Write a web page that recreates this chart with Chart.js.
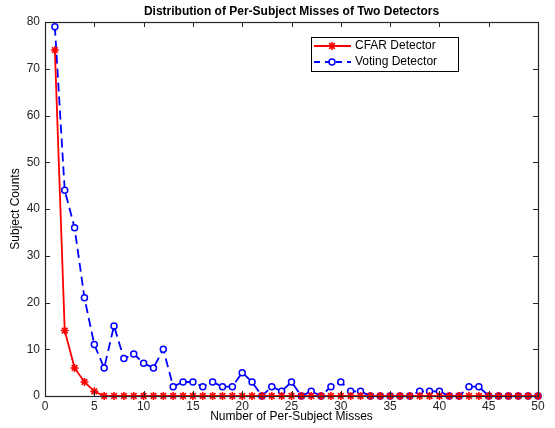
<!DOCTYPE html>
<html>
<head>
<meta charset="utf-8">
<script src="https://cdn.jsdelivr.net/npm/chart.js@4.4.1/dist/chart.umd.min.js"></script>
<style>
  html, body { margin: 0; padding: 0; background: #fff; }
  #wrap { width: 555px; height: 428px; }
</style>
</head>
<body>
<div id="wrap"><canvas id="chart_misses"></canvas></div>
<script>
// misses per subject (x) and how many subjects had that many
var misses = [];
for (var i = 1; i <= 50; i++) misses.push(i);

var cfarCounts = [74, 14, 6, 3, 1, 0, 0, 0, 0, 0,
                  0, 0, 0, 0, 0, 0, 0, 0, 0, 0,
                  0, 0, 0, 0, 0, 0, 0, 0, 0, 0,
                  0, 0, 0, 0, 0, 0, 0, 0, 0, 0,
                  0, 0, 0, 0, 0, 0, 0, 0, 0, 0];

var votingCounts = [79, 44, 36, 21, 11, 6, 15, 8, 9, 7,
                    6, 10, 2, 3, 3, 2, 3, 2, 2, 5,
                    3, 0, 2, 1, 3, 0, 1, 0, 2, 3,
                    1, 1, 0, 0, 0, 0, 0, 1, 1, 1,
                    0, 0, 2, 2, 0, 0, 0, 0, 0, 0];

var xTicks = [0, 5, 10, 15, 20, 25, 30, 35, 40, 45, 50];
var yTicks = [0, 10, 20, 30, 40, 50, 60, 70, 80];

var FONT = '"Liberation Sans", Arial, Helvetica, sans-serif';
var AXIS = '#262626';

function pts(ys) {
  return misses.map(function (x, i) { return { x: x, y: ys[i] }; });
}

// matlab-ish box with inward ticks, title and an inset legend
var matlabAxes = {
  id: 'matlabAxes',
  beforeDraw: function (chart) {
    var ctx = chart.ctx;
    ctx.save();
    ctx.fillStyle = 'white';
    ctx.fillRect(0, 0, chart.width, chart.height);
    ctx.restore();
  },
  afterDatasetsDraw: function (chart) {
    var ctx = chart.ctx, a = chart.chartArea;
    var xs = chart.scales.x, ys = chart.scales.y;
    ctx.save();
    ctx.strokeStyle = AXIS;
    ctx.lineWidth = 1;
    ctx.beginPath();
    xTicks.forEach(function (t) {
      var px = Math.round(xs.getPixelForValue(t)) + 0.5;
      ctx.moveTo(px, a.bottom); ctx.lineTo(px, a.bottom - 5);
      ctx.moveTo(px, a.top); ctx.lineTo(px, a.top + 5);
    });
    yTicks.forEach(function (t) {
      var py = Math.round(ys.getPixelForValue(t)) + 0.5;
      ctx.moveTo(a.left, py); ctx.lineTo(a.left + 5, py);
      ctx.moveTo(a.right, py); ctx.lineTo(a.right - 5, py);
    });
    ctx.stroke();
    ctx.lineWidth = 1.2;
    ctx.strokeRect(a.left + 0.5, a.top + 0.5, a.right - a.left, a.bottom - a.top);

    // title
    ctx.fillStyle = '#000';
    ctx.font = 'bold 12px ' + FONT;
    ctx.textAlign = 'center';
    ctx.textBaseline = 'middle';
    ctx.fillText('Distribution of Per-Subject Misses of Two Detectors', (a.left + a.right) / 2, 12);

    // legend
    var bx = 311.5, by = 37.5, bw = 147, bh = 34;
    ctx.fillStyle = '#fff';
    ctx.fillRect(bx, by, bw, bh);
    ctx.strokeStyle = '#000';
    ctx.lineWidth = 1;
    ctx.strokeRect(bx, by, bw, bh);
    ctx.font = '12px ' + FONT;
    ctx.textAlign = 'left';
    var rows = [
      { label: 'CFAR Detector', color: '#ff0000', dash: [], y: 46 },
      { label: 'Voting Detector', color: '#0000ff', dash: [6, 5], y: 62 }
    ];
    rows.forEach(function (r, k) {
      var ds = chart.data.datasets[k];
      ctx.strokeStyle = r.color;
      ctx.lineWidth = 1.8;
      ctx.setLineDash(r.dash);
      ctx.beginPath();
      ctx.moveTo(314, r.y); ctx.lineTo(351, r.y);
      ctx.stroke();
      ctx.setLineDash([]);
      ctx.fillStyle = ds.pointBackgroundColor;
      ctx.lineWidth = ds.pointBorderWidth;
      Chart.helpers.drawPoint(ctx, {
        pointStyle: ds.pointStyle, radius: ds.pointRadius,
        borderWidth: ds.pointBorderWidth, rotation: 0
      }, 332, r.y);
      ctx.fillStyle = '#000';
      ctx.fillText(r.label, 355, r.y);
    });
    ctx.restore();
  }
};

var chart_misses = new Chart(document.getElementById('chart_misses'), {
  type: 'line',
  data: {
    datasets: [
      {
        label: 'CFAR Detector',
        data: pts(cfarCounts),
        borderColor: '#ff0000',
        backgroundColor: '#ff0000',
        borderWidth: 1.8,
        pointStyle: 'star',
        pointRadius: 4,
        pointBorderWidth: 1.6,
        pointBorderColor: '#ff0000',
        pointBackgroundColor: '#ff0000',
        tension: 0,
        clip: false,
        order: 1
      },
      {
        label: 'Voting Detector',
        data: pts(votingCounts),
        borderColor: '#0000ff',
        backgroundColor: '#ffffff',
        borderWidth: 1.8,
        borderDash: [9, 5],
        pointStyle: 'circle',
        pointRadius: 3,
        pointBorderWidth: 1.5,
        pointBorderColor: '#0000ff',
        pointBackgroundColor: '#ffffff',
        tension: 0,
        clip: false,
        order: 2
      }
    ]
  },
  options: {
    animation: false,
    responsive: true,
    maintainAspectRatio: false,
    layout: { padding: { top: 22, right: 17, left: 0, bottom: 0 } },
    plugins: {
      legend: { display: false },
      title: { display: false },
      tooltip: { enabled: false }
    },
    scales: {
      x: {
        type: 'linear',
        min: 0,
        max: 50,
        afterFit: function (s) { s.height = 32; },
        afterBuildTicks: function (s) { s.ticks = xTicks.map(function (v) { return { value: v }; }); },
        grid: { display: false, drawTicks: false },
        border: { display: false },
        ticks: { padding: 3, color: AXIS, font: { family: FONT, size: 12 }, maxRotation: 0 },
        title: {
          display: true,
          text: 'Number of Per-Subject Misses',
          color: '#000',
          font: { family: FONT, size: 12 },
          padding: { top: 0, bottom: 4 }
        }
      },
      y: {
        type: 'linear',
        min: 0,
        max: 80,
        afterFit: function (s) { s.width = 45; },
        afterBuildTicks: function (s) { s.ticks = yTicks.map(function (v) { return { value: v }; }); },
        grid: { display: false, drawTicks: false },
        border: { display: false },
        ticks: { padding: 5, color: AXIS, font: { family: FONT, size: 12 } },
        title: {
          display: true,
          text: 'Subject Counts',
          color: '#000',
          font: { family: FONT, size: 12 },
          padding: { top: 8, bottom: 0 }
        }
      }
    }
  },
  plugins: [matlabAxes]
});
</script>
</body>
</html>
